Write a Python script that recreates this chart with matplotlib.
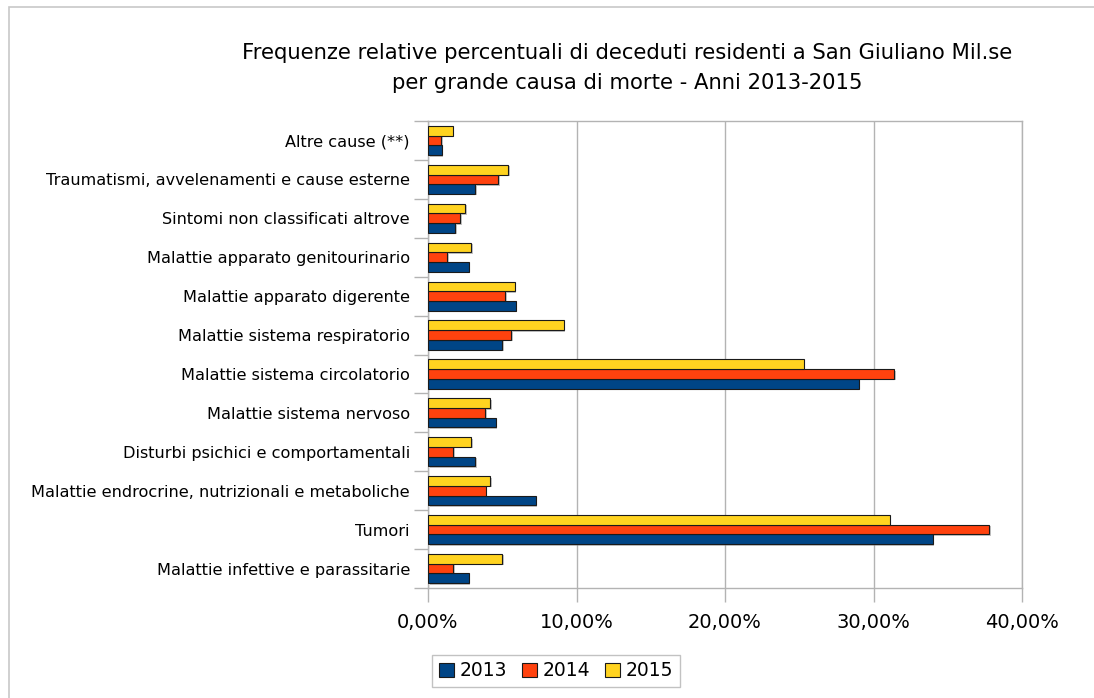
import matplotlib
matplotlib.use("Agg")
from matplotlib import pyplot as plt
from matplotlib.patches import Rectangle
from matplotlib.ticker import FuncFormatter
import numpy as np

# categories, bottom to top
causes = ['Malattie infettive e parassitarie',
          'Tumori',
          'Malattie endrocrine, nutrizionali e metaboliche',
          'Disturbi psichici e comportamentali',
          'Malattie sistema nervoso',
          'Malattie sistema circolatorio',
          'Malattie sistema respiratorio',
          'Malattie apparato digerente',
          'Malattie apparato genitourinario',
          'Sintomi non classificati altrove',
          'Traumatismi, avvelenamenti e cause esterne',
          'Altre cause (**)']

years = ['2013', '2014', '2015']
val_2013 = [2.74, 34.0, 7.26, 3.19, 4.56, 29.0, 4.99, 5.91, 2.74, 1.82, 3.19, 0.92]
val_2014 = [1.71, 37.8, 3.89, 1.71, 3.87, 31.4, 5.59, 5.19, 1.28, 2.16, 4.74, 0.88]
val_2015 = [4.99, 31.1, 4.18, 2.92, 4.18, 25.3, 9.14, 5.84, 2.92, 2.50, 5.42, 1.68]
x_ticks = [0, 10, 20, 30, 40]

colors = ['#004586', '#ff420e', '#ffd320']

fig = plt.figure(figsize=(10.94, 6.98), dpi=100)
ax = fig.add_axes([428 / 1094, 1 - 588 / 698, (1022 - 428) / 1094, (588 - 121) / 698])

# outer chart frame
fig.patches.append(Rectangle((9 / 1094, -0.1), 1.2, 1 - 7 / 698 + 0.1, transform=fig.transFigure,
                             fill=False, edgecolor='#c8c8c8', lw=1.2))

y = np.arange(len(causes))
h = 0.25
shadow = ax.transData + matplotlib.transforms.ScaledTranslation(1.5 / 100, -1.5 / 100, fig.dpi_scale_trans)
for i, vals in enumerate([val_2013, val_2014, val_2015]):
    # light shadow then the bar
    ax.barh(y + (i - 1) * h, vals, height=h, color='#888888', alpha=0.5, transform=shadow, zorder=2)
    ax.barh(y + (i - 1) * h, vals, height=h, color=colors[i], edgecolor='#1a1a1a', lw=0.8,
            label=years[i], zorder=3)

ax.set_xlim(0, 40)
ax.set_ylim(-0.5, len(causes) - 0.5)
ax.set_xticks(x_ticks)
ax.xaxis.set_major_formatter(FuncFormatter(lambda v, p: f'{v:.2f}%'.replace('.', ',')))
ax.set_yticks(y)
ax.set_yticklabels(causes, fontsize=11.6)
ax.set_yticks(np.arange(len(causes) + 1) - 0.5, minor=True)
ax.tick_params(axis='y', which='major', length=0, pad=13)
ax.tick_params(axis='y', which='minor', length=10, color='#b3b3b3', width=1)
ax.tick_params(axis='x', length=10, color='#b3b3b3', width=1, labelsize=14, pad=8)
ax.grid(axis='x', color='#b3b3b3', lw=1, zorder=0)
for s in ax.spines.values():
    s.set_color('#b3b3b3')
    s.set_linewidth(1)

fig.text(627 / 1094, 1 - 53 / 698, 'Frequenze relative percentuali di deceduti residenti a San Giuliano Mil.se',
         ha='center', va='center', fontsize=15.2)
fig.text(627 / 1094, 1 - 83 / 698, 'per grande causa di morte - Anni 2013-2015',
         ha='center', va='center', fontsize=15.2)

handles, labels = ax.get_legend_handles_labels()
leg = fig.legend(handles, labels, loc='center', bbox_to_anchor=(556 / 1094, 1 - 671 / 698), ncol=3,
                 fontsize=13.5, frameon=True, fancybox=False, handlelength=0.8, handleheight=0.8,
                 handletextpad=0.3, columnspacing=0.8, borderpad=0.35)
leg.get_frame().set_edgecolor('#b3b3b3')
leg.get_frame().set_linewidth(1)

fig.savefig('out.png', dpi=100)
